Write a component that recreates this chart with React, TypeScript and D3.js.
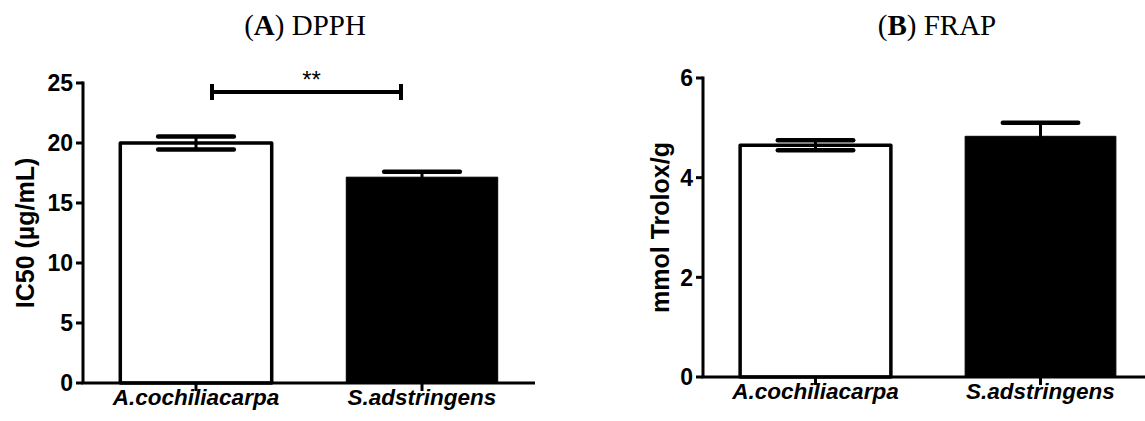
import React from "react";
import * as d3 from "d3";

const categories = ["A.cochiliacarpa", "S.adstringens"];
const barFills = ["#ffffff", "#000000"];

const dpphMeans = [20.0, 17.15];
const dpphErrors = [0.55, 0.45];
const dpphTicks = [0, 5, 10, 15, 20, 25];

const frapMeans = [4.65, 4.83];
const frapErrors = [0.1, 0.27];
const frapTicks = [0, 2, 4, 6];

const sigLabel = "**";
const sigValue = 24.25;

const SANS = "'Liberation Sans', Arial, sans-serif";
const SERIF = "'Liberation Serif', 'Times New Roman', serif";

type PanelProps = {
  letter: string;
  name: string;
  yLabel: string;
  means: number[];
  errors: number[];
  ticks: number[];
  x0: number;
  x1: number;
  yBottom: number;
  yTop: number;
  titleX: number;
  yLabelX: number;
  sig?: { label: string; value: number };
};

function Panel(p: PanelProps) {
  const yMax = p.ticks[p.ticks.length - 1];
  const x = d3.scaleBand<string>().domain(categories).range([p.x0, p.x1]).paddingInner(0.33).paddingOuter(0.165);
  const y = d3.scaleLinear().domain([0, yMax]).range([p.yBottom, p.yTop]);
  const bw = x.bandwidth();
  const capW = bw * 0.5;
  const yLabelY = (p.yBottom + p.yTop) / 2;
  return (
    <g>
      <text x={p.titleX} y={35} textAnchor="middle" fontFamily={SERIF} fontSize={29} fill="#000">
        (<tspan fontWeight="bold">{p.letter}</tspan>) {p.name}
      </text>
      {categories.map((c, i) => {
        const bx = x(c)!;
        const top = y(p.means[i]);
        const filled = barFills[i] !== "#ffffff";
        return (
          <rect
            key={c}
            x={bx}
            y={top}
            width={bw}
            height={p.yBottom - top}
            fill={barFills[i]}
            stroke="#000"
            strokeWidth={filled ? 1 : 3.5}
            strokeLinejoin="round"
          />
        );
      })}
      {categories.map((c, i) => {
        const cx = x(c)! + bw / 2;
        const hi = y(p.means[i] + p.errors[i]);
        const lo = y(p.means[i] - p.errors[i]);
        return (
          <g key={"e" + c} stroke="#000" strokeLinecap="round">
            <line x1={cx} x2={cx} y1={hi} y2={lo} strokeWidth={3} />
            <line x1={cx - capW / 2} x2={cx + capW / 2} y1={hi} y2={hi} strokeWidth={4.5} />
            <line x1={cx - capW / 2} x2={cx + capW / 2} y1={lo} y2={lo} strokeWidth={4.5} />
          </g>
        );
      })}
      <line x1={p.x0} x2={p.x0} y1={p.yTop - 1.5} y2={p.yBottom} stroke="#000" strokeWidth={3} />
      {p.ticks.map((t) => (
        <g key={"t" + t}>
          <line x1={p.x0 - 7} x2={p.x0} y1={y(t)} y2={y(t)} stroke="#000" strokeWidth={3} />
          <text
            x={p.x0 - 10}
            y={y(t)}
            dy="0.36em"
            textAnchor="end"
            fontFamily={SANS}
            fontWeight="bold"
            fontSize={23}
            fill="#000"
          >
            {t}
          </text>
        </g>
      ))}
      <text
        transform={`translate(${p.yLabelX},${yLabelY}) rotate(-90)`}
        textAnchor="middle"
        dy="0.36em"
        fontFamily={SANS}
        fontWeight="bold"
        fontSize={25}
        fill="#000"
      >
        {p.yLabel}
      </text>
      <line x1={p.x0 - 1.5} x2={p.x1} y1={p.yBottom} y2={p.yBottom} stroke="#000" strokeWidth={3} />
      {categories.map((c) => {
        const cx = x(c)! + bw / 2;
        return (
          <g key={"x" + c}>
            <line x1={cx} x2={cx} y1={p.yBottom} y2={p.yBottom + 8} stroke="#000" strokeWidth={3} />
            <text
              x={cx}
              y={p.yBottom + 22}
              textAnchor="middle"
              fontFamily={SANS}
              fontWeight="bold"
              fontStyle="italic"
              fontSize={22.5}
              fill="#000"
            >
              {c}
            </text>
          </g>
        );
      })}
      {p.sig && (() => {
        const xa = x(categories[0])! + bw / 2 + 16;
        const xb = x(categories[1])! + bw / 2 - 21;
        const ys = y(p.sig.value);
        return (
          <g stroke="#000">
            <line x1={xa} x2={xb} y1={ys} y2={ys} strokeWidth={4} />
            <line x1={xa} x2={xa} y1={ys - 8} y2={ys + 8} strokeWidth={4} />
            <line x1={xb} x2={xb} y1={ys - 8} y2={ys + 8} strokeWidth={4} />
            <text
              x={(xa + xb) / 2 + 5}
              y={ys - 4}
              textAnchor="middle"
              fontFamily={SANS}
              fontSize={24}
              stroke="none"
              fill="#000"
            >
              {p.sig.label}
            </text>
          </g>
        );
      })()}
    </g>
  );
}

export default function App() {
  return (
    <svg
      width={1145}
      height={421}
      viewBox="0 0 1145 421"
      style={{ position: "absolute", left: 0, top: 0, display: "block", background: "#fff" }}
    >
      <rect width={1145} height={421} fill="#fff" />
      <Panel
        letter="A"
        name="DPPH"
        yLabel="IC50 (µg/mL)"
        means={dpphMeans}
        errors={dpphErrors}
        ticks={dpphTicks}
        x0={83}
        x1={535}
        yBottom={383}
        yTop={83}
        titleX={305}
        yLabelX={25}
        sig={{ label: sigLabel, value: sigValue }}
      />
      <Panel
        letter="B"
        name="FRAP"
        yLabel="mmol Trolox/g"
        means={frapMeans}
        errors={frapErrors}
        ticks={frapTicks}
        x0={703}
        x1={1153}
        yBottom={377}
        yTop={78}
        titleX={937}
        yLabelX={660}
      />
    </svg>
  );
}
